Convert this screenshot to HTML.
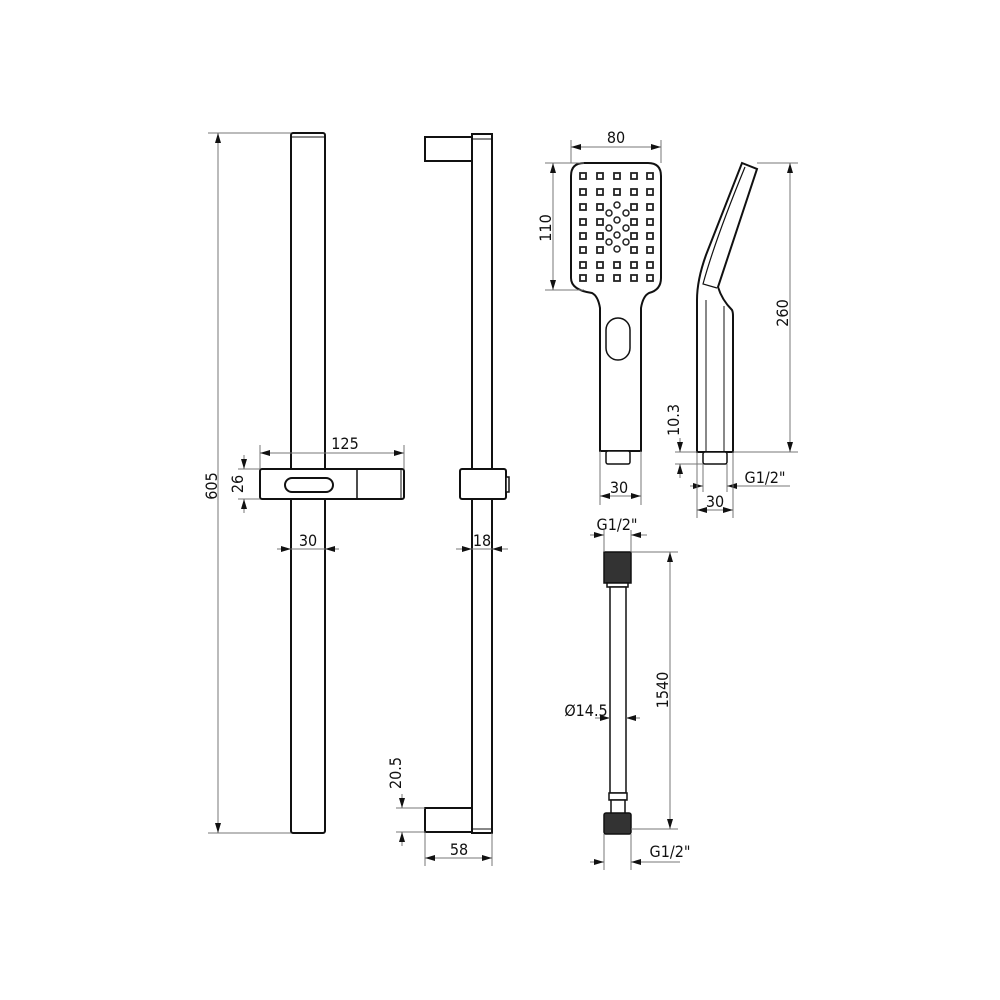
<!DOCTYPE html>
<html><head><meta charset="utf-8"><style>
html,body{margin:0;padding:0;background:#fff}
svg{display:block}
text{font-family:"DejaVu Sans Condensed","Liberation Sans",sans-serif;font-size:16px;fill:#111}
.o{fill:#fff;stroke:#111;stroke-width:2}
.d{stroke:#777;stroke-width:1;fill:none}
</style></head><body>
<svg width="1000" height="1000" viewBox="0 0 1000 1000" xmlns="http://www.w3.org/2000/svg">
<defs>
<marker id="ar" viewBox="0 0 10 6" refX="10" refY="3" markerWidth="10" markerHeight="6" orient="auto-start-reverse" markerUnits="userSpaceOnUse"><path d="M0,0L10,3L0,6z" fill="#111"/></marker>
</defs>
<!-- LEFT RAIL -->
<rect class="o" x="291" y="133" width="34" height="700" rx="2"/>
<line x1="292" y1="137" x2="324" y2="137" stroke="#111" stroke-width="1"/>
<rect class="o" x="260" y="469" width="144" height="30" rx="2"/>
<line x1="357" y1="469" x2="357" y2="499" stroke="#111" stroke-width="1.5"/>
<line x1="401" y1="469" x2="401" y2="499" stroke="#111" stroke-width="1"/>
<rect class="o" x="285" y="478" width="48" height="14" rx="7"/>
<line class="d" x1="208" y1="133" x2="291" y2="133"/><line class="d" x1="208" y1="833" x2="291" y2="833"/>
<line class="d" x1="218" y1="133" x2="218" y2="833" marker-start="url(#ar)" marker-end="url(#ar)"/>
<text transform="translate(217,486) rotate(-90)" text-anchor="middle">605</text>
<line class="d" x1="260" y1="445" x2="260" y2="469"/><line class="d" x1="404" y1="445" x2="404" y2="469"/>
<line class="d" x1="260" y1="453" x2="404" y2="453" marker-start="url(#ar)" marker-end="url(#ar)"/>
<text x="345" y="449" text-anchor="middle">125</text>
<line class="d" x1="238" y1="469" x2="260" y2="469"/><line class="d" x1="238" y1="499" x2="260" y2="499"/>
<line class="d" x1="244" y1="455" x2="244" y2="469" marker-end="url(#ar)"/>
<line class="d" x1="244" y1="513" x2="244" y2="499" marker-end="url(#ar)"/>
<text transform="translate(243,484) rotate(-90)" text-anchor="middle">26</text>
<line class="d" x1="291" y1="549" x2="325" y2="549"/>
<line class="d" x1="277" y1="549" x2="291" y2="549" marker-end="url(#ar)"/>
<line class="d" x1="339" y1="549" x2="325" y2="549" marker-end="url(#ar)"/>
<text x="308" y="546" text-anchor="middle">30</text>

<!-- MIDDLE RAIL -->
<rect class="o" x="472" y="134" width="20" height="699"/>
<line x1="472" y1="139" x2="492" y2="139" stroke="#111" stroke-width="1"/>
<line x1="472" y1="829" x2="492" y2="829" stroke="#111" stroke-width="1"/>
<rect class="o" x="425" y="137" width="47" height="24"/>
<rect class="o" x="425" y="808" width="47" height="24"/>
<rect class="o" x="460" y="469" width="46" height="30" rx="2"/>
<rect class="o" x="506" y="477" width="3" height="15" style="stroke-width:1.5"/>
<line class="d" x1="472" y1="549" x2="492" y2="549"/>
<line class="d" x1="456" y1="549" x2="472" y2="549" marker-end="url(#ar)"/>
<line class="d" x1="508" y1="549" x2="492" y2="549" marker-end="url(#ar)"/>
<text x="482" y="546" text-anchor="middle">18</text>
<line class="d" x1="396" y1="808" x2="425" y2="808"/><line class="d" x1="396" y1="832" x2="425" y2="832"/>
<line class="d" x1="402" y1="794" x2="402" y2="808" marker-end="url(#ar)"/>
<line class="d" x1="402" y1="846" x2="402" y2="832" marker-end="url(#ar)"/>
<text transform="translate(401,773) rotate(-90)" text-anchor="middle">20.5</text>
<line class="d" x1="425" y1="832" x2="425" y2="866"/><line class="d" x1="492" y1="833" x2="492" y2="866"/>
<line class="d" x1="425" y1="858" x2="492" y2="858" marker-start="url(#ar)" marker-end="url(#ar)"/>
<text x="459" y="855" text-anchor="middle">58</text>

<!-- SHOWER HEAD FRONT -->
<path class="o" d="M584,163 H648 Q661,163 661,176 V278 Q661,290 649,293 Q643,296 641,308 V451 H600 V308 Q598,296 592,293 Q571,290 571,278 V176 Q571,163 584,163 Z"/>
<rect class="o" x="606" y="318" width="24" height="42" rx="12" style="stroke-width:1.5"/>
<rect class="o" x="606" y="451" width="24" height="13" rx="2" style="stroke-width:1.5"/>
<g id="grid"></g>
<line class="d" x1="571" y1="140" x2="571" y2="163"/><line class="d" x1="661" y1="140" x2="661" y2="163"/>
<line class="d" x1="571" y1="147" x2="661" y2="147" marker-start="url(#ar)" marker-end="url(#ar)"/>
<text x="616" y="143" text-anchor="middle">80</text>
<line class="d" x1="545" y1="163" x2="584" y2="163"/><line class="d" x1="545" y1="290" x2="584" y2="290"/>
<line class="d" x1="553" y1="163" x2="553" y2="290" marker-start="url(#ar)" marker-end="url(#ar)"/>
<text transform="translate(551,228) rotate(-90)" text-anchor="middle">110</text>
<line class="d" x1="600" y1="451" x2="600" y2="505"/><line class="d" x1="641" y1="451" x2="641" y2="505"/>
<line class="d" x1="600" y1="496" x2="641" y2="496" marker-start="url(#ar)" marker-end="url(#ar)"/>
<text x="619" y="493" text-anchor="middle">30</text>

<!-- SIDE VIEW -->
<path class="o" d="M742,163 L757,169 L718,287 Q722,300 732,310 Q733,312 733,316 V452 H697 V300 Q697,280 706,255 Z"/>
<path d="M745,167 Q715,240 703,284 L717,288" stroke="#111" stroke-width="1.2" fill="none"/>
<line x1="706" y1="300" x2="706" y2="452" stroke="#111" stroke-width="1"/>
<line x1="724" y1="306" x2="724" y2="452" stroke="#111" stroke-width="1"/>
<rect class="o" x="703" y="452" width="24" height="12" rx="2" style="stroke-width:1.5"/>
<line class="d" x1="757" y1="163" x2="798" y2="163"/><line class="d" x1="733" y1="452" x2="798" y2="452"/>
<line class="d" x1="790" y1="163" x2="790" y2="452" marker-start="url(#ar)" marker-end="url(#ar)"/>
<text transform="translate(788,313) rotate(-90)" text-anchor="middle">260</text>
<line class="d" x1="675" y1="452" x2="697" y2="452"/><line class="d" x1="675" y1="464" x2="703" y2="464"/>
<line class="d" x1="680" y1="438" x2="680" y2="452" marker-end="url(#ar)"/>
<line class="d" x1="680" y1="478" x2="680" y2="464" marker-end="url(#ar)"/>
<text transform="translate(679,420) rotate(-90)" text-anchor="middle">10.3</text>
<line class="d" x1="703" y1="464" x2="703" y2="492"/><line class="d" x1="727" y1="464" x2="727" y2="492"/>
<line class="d" x1="690" y1="486" x2="703" y2="486" marker-end="url(#ar)"/>
<line class="d" x1="790" y1="486" x2="727" y2="486" marker-end="url(#ar)"/>
<text x="765" y="483" text-anchor="middle">G1/2"</text>
<line class="d" x1="697" y1="452" x2="697" y2="518"/><line class="d" x1="733" y1="452" x2="733" y2="518"/>
<line class="d" x1="697" y1="510" x2="733" y2="510" marker-start="url(#ar)" marker-end="url(#ar)"/>
<text x="715" y="507" text-anchor="middle">30</text>

<!-- HOSE -->
<rect x="604" y="552" width="27" height="31" fill="#333" stroke="#111" stroke-width="1.5"/>
<rect class="o" x="607" y="583" width="21" height="4" style="stroke-width:1.5"/>
<rect class="o" x="610" y="587" width="16" height="206" style="stroke-width:1.5"/>
<rect class="o" x="609" y="793" width="18" height="7" style="stroke-width:1.5"/>
<rect class="o" x="611" y="800" width="14" height="14" style="stroke-width:1.5"/>
<rect x="604" y="813" width="27" height="21" rx="2" fill="#333" stroke="#111" stroke-width="1.5"/>
<line class="d" x1="604" y1="530" x2="604" y2="552"/><line class="d" x1="631" y1="530" x2="631" y2="552"/>
<line class="d" x1="590" y1="535" x2="604" y2="535" marker-end="url(#ar)"/>
<line class="d" x1="647" y1="535" x2="631" y2="535" marker-end="url(#ar)"/>
<text x="617" y="530" text-anchor="middle">G1/2"</text>
<line class="d" x1="631" y1="552" x2="678" y2="552"/><line class="d" x1="631" y1="829" x2="678" y2="829"/>
<line class="d" x1="670" y1="552" x2="670" y2="829" marker-start="url(#ar)" marker-end="url(#ar)"/>
<text transform="translate(668,690) rotate(-90)" text-anchor="middle">1540</text>
<line class="d" x1="595" y1="718" x2="610" y2="718" marker-end="url(#ar)"/>
<line class="d" x1="640" y1="718" x2="626" y2="718" marker-end="url(#ar)"/>
<text x="586" y="716" text-anchor="middle">Ø14.5</text>
<line class="d" x1="604" y1="834" x2="604" y2="870"/><line class="d" x1="631" y1="834" x2="631" y2="870"/>
<line class="d" x1="590" y1="862" x2="604" y2="862" marker-end="url(#ar)"/>
<line class="d" x1="680" y1="862" x2="631" y2="862" marker-end="url(#ar)"/>
<text x="670" y="857" text-anchor="middle">G1/2"</text>
</svg>
<script>
var g=document.getElementById('grid'),ns='http://www.w3.org/2000/svg';
var xs=[583,600,617,634,650],ys=[176,192,207,222,236,250,265,278];
for(var r=0;r<8;r++)for(var c=0;c<5;c++){
 if(c==2&&r>=2&&r<=5)continue;
 var e=document.createElementNS(ns,'rect');
 e.setAttribute('x',xs[c]-3);e.setAttribute('y',ys[r]-3);e.setAttribute('width',6);e.setAttribute('height',6);
 e.setAttribute('fill','#fff');e.setAttribute('stroke','#222');e.setAttribute('stroke-width','1.8');g.appendChild(e);}
var cs=[[617,205],[609,213],[626,213],[617,220],[609,228],[626,228],[617,235],[609,242],[626,242],[617,249]];
cs.forEach(function(p){var e=document.createElementNS(ns,'circle');e.setAttribute('cx',p[0]);e.setAttribute('cy',p[1]);e.setAttribute('r',3);
e.setAttribute('fill','#fff');e.setAttribute('stroke','#222');e.setAttribute('stroke-width','1.5');g.appendChild(e);});
</script>
</body></html>
